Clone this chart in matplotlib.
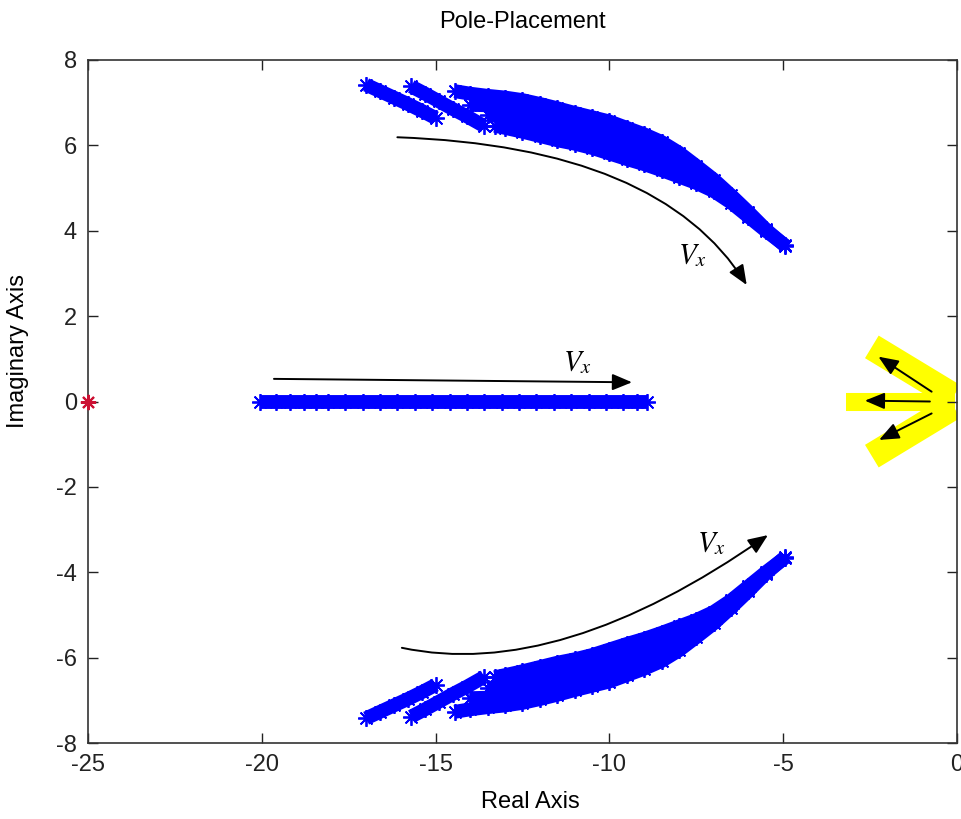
import matplotlib
matplotlib.use('Agg')
import matplotlib.pyplot as plt

plt.rcParams['font.family'] = ['Liberation Sans', 'DejaVu Sans']
plt.rcParams['mathtext.fontset'] = 'stix'
plt.rcParams['axes.unicode_minus'] = False

# closed-loop pole sweeps (upper half-plane; the lower half is the conjugate)
s1_re = [-17.0, -16.6, -16.2, -15.8, -15.4, -15.0]
s1_im = [7.42, 7.27, 7.12, 6.97, 6.81, 6.64]

s2_re = [-15.7, -15.3, -14.9, -14.5, -14.1, -13.6]
s2_im = [7.38, 7.21, 7.03, 6.85, 6.68, 6.45]

s3_re = [-14.45, -14.0, -13.5, -13.0, -12.5, -12.0, -11.5, -11.0, -10.5, -10.0,
         -9.5, -9.0, -8.5, -8.0, -7.5, -7.0, -6.5, -6.0, -5.5, -4.95]
s3_im = [7.27, 7.21, 7.16, 7.12, 7.06, 6.97, 6.87, 6.76, 6.66, 6.56,
         6.41, 6.26, 6.08, 5.83, 5.52, 5.20, 4.83, 4.44, 4.03, 3.65]

s4_re = [-14.0, -13.5, -13.0, -12.5, -12.0, -11.5, -11.0, -10.5, -10.0,
         -9.5, -9.0, -8.5, -8.0, -7.5, -7.0, -6.5, -6.0, -5.5]
s4_im = [6.95, 6.94, 6.88, 6.81, 6.72, 6.62, 6.52, 6.42, 6.31,
         6.17, 6.03, 5.86, 5.64, 5.39, 5.11, 4.77, 4.40, 4.02]

s5_re = [-13.5, -13.0, -12.5, -12.0, -11.5, -11.0, -10.5, -10.0,
         -9.5, -9.0, -8.5, -8.0, -7.5, -7.0, -6.5, -6.0]
s5_im = [6.72, 6.65, 6.57, 6.47, 6.37, 6.28, 6.18, 6.06,
         5.92, 5.79, 5.64, 5.46, 5.25, 5.02, 4.72, 4.37]

s6_re = [-13.3, -13.0, -12.5, -12.0, -11.5, -11.0, -10.5, -10.0, -9.5,
         -9.0, -8.5, -8.0, -7.5, -7.0, -6.5, -6.0, -5.5, -4.95]
s6_im = [6.46, 6.41, 6.32, 6.22, 6.12, 6.04, 5.94, 5.81, 5.68,
         5.56, 5.42, 5.27, 5.12, 4.93, 4.66, 4.33, 4.00, 3.66]

# real poles
real_re = [-20.05, -19.6, -19.2, -18.8, -18.45, -18.1, -17.6, -17.1, -16.6, -16.1,
           -15.6, -15.1, -14.6, -14.1, -13.6, -13.1, -12.6, -12.1, -11.6, -11.1,
           -10.6, -10.1, -9.6, -9.2, -8.92]

# open-loop poles region (yellow)
arm_up_re = [-2.45, -0.1]
arm_up_im = [1.28, 0.12]
arm_mid_re = [-3.2, -0.05]
arm_mid_im = [0.0, 0.0]

# red reference pole
ref_re = [-25.0]
ref_im = [0.0]

# direction arrows: (tail, head)
arrows_straight = [((-19.65, 0.53), (-9.35, 0.45)),
                   ((-0.73, 0.23), (-2.26, 1.05)),
                   ((-0.78, 0.0), (-2.65, 0.02)),
                   ((-0.73, -0.28), (-2.24, -0.9))]
arrow_top = ((-16.1, 6.19), (-6.05, 2.73))
arrow_bottom = ((-15.97, -5.77), (-5.44, -3.13))
vx_labels = [(-7.62, 3.43), (-10.93, 0.92), (-7.05, -3.31)]

fig = plt.figure(figsize=(9.62, 8.19), dpi=100)
ax = fig.add_axes([88 / 962, 1 - 743 / 819, 869 / 962, 683 / 819])

star = (8, 2, 0)
blue = (0, 0, 1)

# yellow open-loop region
for sgn in (1, -1):
    ax.plot(arm_up_re, [sgn * v for v in arm_up_im], color='#ffff00',
            lw=19, solid_capstyle='butt', zorder=1)
ax.plot(arm_mid_re, arm_mid_im, color='#ffff00', lw=13,
        solid_capstyle='butt', zorder=1)

rows = [(s1_re, s1_im), (s2_re, s2_im), (s3_re, s3_im),
        (s4_re, s4_im), (s5_re, s5_im), (s6_re, s6_im)]
for re, im in rows:
    for sgn in (1, -1):
        ax.plot(re, [sgn * v for v in im], color=blue, lw=10,
                solid_capstyle='butt', marker=star, ms=12, mew=1.3, zorder=2)

ax.plot(real_re, [0.0] * len(real_re), color=blue, lw=10,
        solid_capstyle='butt', marker=star, ms=12, mew=1.3, zorder=2)

ax.plot(ref_re, ref_im, ls='none', marker=star, ms=11, mew=1.5,
        color='#cc1133', clip_on=False, zorder=5)

head = '-|>,head_length=0.6,head_width=0.25'
for tail, tip in arrows_straight:
    ax.annotate('', xy=tip, xytext=tail,
                arrowprops=dict(arrowstyle=head, mutation_scale=20, color='k',
                                lw=1.4, shrinkA=0, shrinkB=0), zorder=4)
ax.annotate('', xy=arrow_top[1], xytext=arrow_top[0],
            arrowprops=dict(arrowstyle=head, mutation_scale=20, color='k',
                            lw=1.4, shrinkA=0, shrinkB=0,
                            connectionstyle='angle3,angleA=-2,angleB=-58'))
ax.annotate('', xy=arrow_bottom[1], xytext=arrow_bottom[0],
            arrowprops=dict(arrowstyle=head, mutation_scale=20, color='k',
                            lw=1.4, shrinkA=0, shrinkB=0,
                            connectionstyle='angle3,angleA=-12,angleB=35'))
for x, y in vx_labels:
    ax.text(x, y, r'$V_x$', fontsize=21, ha='center', va='center')

ax.set_xlim(-25, 0)
ax.set_ylim(-8, 8)
ax.set_xticks(range(-25, 1, 5))
ax.set_yticks(range(-8, 9, 2))
ax.tick_params(direction='in', top=True, right=True, length=7, width=1,
               labelsize=17, pad=8, colors='#222222')
for sp in ax.spines.values():
    sp.set_color('#333333')
    sp.set_linewidth(1.2)

ax.set_xlabel('Real Axis', fontsize=17)
ax.xaxis.set_label_coords(0.509, -0.071)
ax.set_ylabel('Imaginary Axis', fontsize=17)
ax.yaxis.set_label_coords(-0.068, 0.574)
ax.text(0.5, 1.047, 'Pole-Placement', transform=ax.transAxes, fontsize=17,
        ha='center', va='baseline')

fig.savefig('out.png', dpi=100)
